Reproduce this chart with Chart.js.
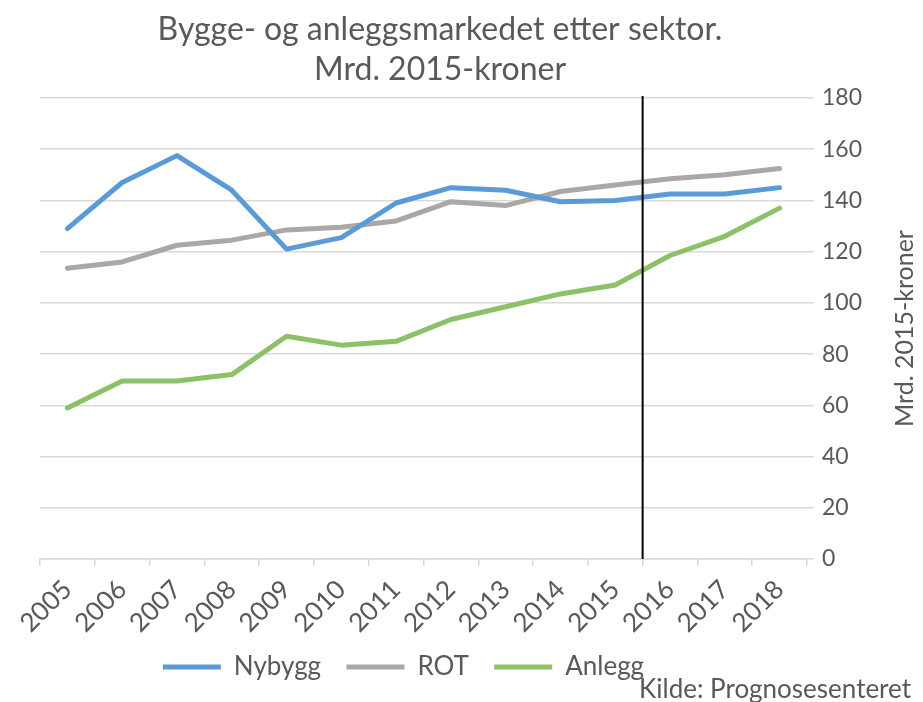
<!DOCTYPE html>
<html>
<head>
<meta charset="utf-8">
<script src="https://cdn.jsdelivr.net/npm/chart.js@4/dist/chart.umd.min.js"></script>
<style>
  html, body { margin: 0; padding: 0; background: #fff; }
  #wrap { width: 923px; height: 702px; }
</style>
</head>
<body>
<div id="wrap"><canvas id="marketChart"></canvas></div>
<script>
const years = ['2005', '2006', '2007', '2008', '2009', '2010', '2011', '2012', '2013', '2014', '2015', '2016', '2017', '2018'];
const nybygg = [129, 147, 157.5, 144, 121, 125.5, 139, 145, 144, 139.5, 140, 142.5, 142.5, 145];
const rot = [113.5, 116, 122.5, 124.5, 128.5, 129.5, 132, 139.5, 138, 143.5, 146, 148.5, 150, 152.5];
const anlegg = [59, 69.5, 69.5, 72, 87, 83.5, 85, 93.5, 98.5, 103.5, 107, 118.5, 126, 137];
const yTicks = [0, 20, 40, 60, 80, 100, 120, 140, 160, 180];
const forecastStart = '2016';

const textColor = '#595959';
const gridColor = '#d9d9d9';
const fontFamily = 'Lato, "Open Sans", sans-serif';

// black vertical line where the forecast starts
const dividerLine = {
  id: 'dividerLine',
  afterDatasetsDraw(chart) {
    const x = chart.scales.x;
    const area = chart.chartArea;
    const xPos = x.getPixelForValue(years.indexOf(forecastStart) - 0.5);
    const ctx = chart.ctx;
    ctx.save();
    ctx.strokeStyle = '#000';
    ctx.lineWidth = 2;
    ctx.beginPath();
    ctx.moveTo(xPos, area.top - 2);
    ctx.lineTo(xPos, area.bottom);
    ctx.stroke();
    ctx.restore();
  }
};

// title and legend sit a little left of centre, as in the original
const nudgeBoxes = {
  id: 'nudgeBoxes',
  afterLayout(chart) {
    const t = chart.titleBlock;
    if (t) { t.left -= 15; t.right -= 15; }
    const l = chart.legend;
    if (l) { l.left -= 20; l.right -= 20; }
  }
};

// right axis title (reads bottom to top) and source note
const extraText = {
  id: 'extraText',
  afterDraw(chart) {
    const area = chart.chartArea;
    const ctx = chart.ctx;
    ctx.save();
    ctx.font = '25px ' + fontFamily;
    ctx.fillStyle = textColor;
    ctx.textBaseline = 'middle';
    ctx.translate(chart.width - 18, (area.top + area.bottom) / 2);
    ctx.rotate(-Math.PI / 2);
    ctx.textAlign = 'center';
    ctx.fillText('Mrd. 2015-kroner', 0, 0);
    ctx.restore();

    ctx.save();
    ctx.font = '26px ' + fontFamily;
    ctx.fillStyle = textColor;
    ctx.textBaseline = 'middle';
    ctx.textAlign = 'right';
    ctx.fillText('Kilde: Prognosesenteret', chart.width - 12, chart.height - 12);
    ctx.restore();
  }
};

const ctx = document.getElementById('marketChart').getContext('2d');
new Chart(ctx, {
  type: 'line',
  data: {
    labels: years,
    datasets: [{
      label: 'Nybygg',
      data: nybygg,
      borderColor: '#5b9bd5',
      backgroundColor: '#5b9bd5',
      borderWidth: 5
    }, {
      label: 'ROT',
      data: rot,
      borderColor: '#aba7a6',
      backgroundColor: '#aba7a6',
      borderWidth: 5
    }, {
      label: 'Anlegg',
      data: anlegg,
      borderColor: '#8cc168',
      backgroundColor: '#8cc168',
      borderWidth: 5
    }]
  },
  options: {
    responsive: true,
    maintainAspectRatio: false,
    animation: false,
    layout: { padding: { top: 8, right: 53, left: 40, bottom: 12 } },
    elements: {
      line: { borderCapStyle: 'round', borderJoinStyle: 'round', tension: 0 },
      point: { radius: 0 }
    },
    scales: {
      x: {
        offset: true,
        afterFit(scale) { scale.height = 83; },
        grid: { offset: true, drawOnChartArea: false, drawTicks: true, tickLength: 7, color: gridColor, lineWidth: 1.5 },
        border: { color: gridColor, width: 1.5 },
        ticks: { minRotation: 45, maxRotation: 45, padding: 8, color: textColor, font: { family: fontFamily, size: 26 } }
      },
      y: {
        position: 'right',
        min: 0,
        max: 180,
        afterBuildTicks(scale) { scale.ticks = yTicks.map(v => ({ value: v })); },
        grid: { color: gridColor, lineWidth: 1.5, tickLength: 7 },
        border: { display: false },
        ticks: { padding: 8, color: textColor, font: { family: fontFamily, size: 23 } }
      }
    },
    plugins: {
      title: {
        display: true,
        text: ['Bygge- og anleggsmarkedet etter sektor.', 'Mrd. 2015-kroner'],
        color: textColor,
        font: { family: fontFamily, size: 32, weight: 'normal', lineHeight: 1.25 },
        padding: { top: 2, bottom: 8 }
      },
      legend: {
        position: 'bottom',
        fullSize: false,
        labels: {
          usePointStyle: true,
          pointStyle: 'line',
          pointStyleWidth: 58,
          padding: 12,
          color: textColor,
          font: { family: fontFamily, size: 26 },
          generateLabels(chart) {
            const items = Chart.defaults.plugins.legend.labels.generateLabels(chart);
            items.forEach((item, i) => { if (i < items.length - 1) item.text += '  '; });
            return items;
          }
        }
      },
      tooltip: { enabled: false }
    }
  },
  plugins: [dividerLine, nudgeBoxes, extraText]
});
</script>
</body>
</html>
